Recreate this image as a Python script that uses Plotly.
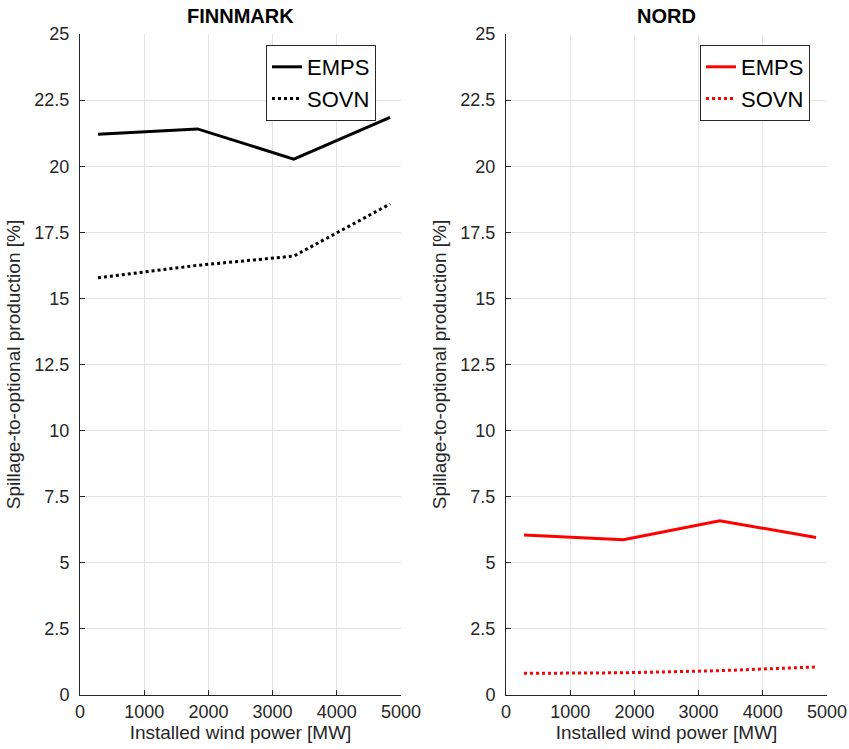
import plotly.graph_objects as go

# Installed wind power scenarios [MW]
wind_mw = [280, 1830, 3330, 4830]

# Spillage-to-optional production [%]
finnmark_emps = [21.21, 21.41, 20.27, 21.85]
finnmark_sovn = [15.78, 16.25, 16.60, 18.57]
nord_emps = [6.05, 5.87, 6.59, 5.96]
nord_sovn = [0.82, 0.84, 0.92, 1.06]

panel_titles = ["FINNMARK", "NORD"]
y_ticks = [0, 2.5, 5, 7.5, 10, 12.5, 15, 17.5, 20, 22.5, 25]
x_ticks = [0, 1000, 2000, 3000, 4000, 5000]

FONT = "Liberation Sans, Arial, Helvetica, sans-serif"
AXIS_COLOR = "#262626"
GRID_COLOR = "#e3e3e3"

fig = go.Figure()

fig.add_trace(go.Scatter(x=wind_mw, y=finnmark_emps, name="EMPS", mode="lines",
                         line=dict(color="black", width=3), xaxis="x", yaxis="y",
                         legend="legend"))
fig.add_trace(go.Scatter(x=wind_mw, y=finnmark_sovn, name="SOVN", mode="lines",
                         line=dict(color="black", width=3, dash="dot"), xaxis="x", yaxis="y",
                         legend="legend"))
fig.add_trace(go.Scatter(x=wind_mw, y=nord_emps, name="EMPS", mode="lines",
                         line=dict(color="red", width=3), xaxis="x2", yaxis="y2",
                         legend="legend2"))
fig.add_trace(go.Scatter(x=wind_mw, y=nord_sovn, name="SOVN", mode="lines",
                         line=dict(color="red", width=3, dash="dot"), xaxis="x2", yaxis="y2",
                         legend="legend2"))

W, H = 849, 749
y_dom = [1 - 695 / H, 1 - 34 / H]
x_doms = [[80 / W, 401 / W], [506 / W, 827 / W]]

common_x = dict(range=[0, 5000], tickvals=x_ticks, ticks="inside", ticklen=5,
                tickcolor=AXIS_COLOR, showline=True, linecolor=AXIS_COLOR, linewidth=1,
                showgrid=True, gridcolor=GRID_COLOR, zeroline=False, mirror=False,
                automargin=False,
                tickfont=dict(family=FONT, size=18, color=AXIS_COLOR),
                title=dict(text="Installed wind power [MW]", standoff=2,
                           font=dict(family=FONT, size=19, color=AXIS_COLOR)))
common_y = dict(range=[0, 25], tickvals=y_ticks, ticks="inside", ticklen=5,
                tickcolor=AXIS_COLOR, showline=True, linecolor=AXIS_COLOR, linewidth=1,
                showgrid=True, gridcolor=GRID_COLOR, zeroline=False, mirror=False,
                automargin=False,
                tickfont=dict(family=FONT, size=18, color=AXIS_COLOR),
                ticklabelstandoff=6,
                title=dict(text="Spillage-to-optional production [%]", standoff=8,
                           font=dict(family=FONT, size=19, color=AXIS_COLOR)))

legend_common = dict(bgcolor="white", bordercolor=AXIS_COLOR, borderwidth=1,
                     font=dict(family=FONT, size=22, color="black"),
                     xanchor="right", yanchor="top", tracegroupgap=0,
                     itemwidth=30)

fig.update_layout(
    width=W, height=H,
    margin=dict(l=0, r=0, t=0, b=0, autoexpand=False),
    paper_bgcolor="white", plot_bgcolor="white",
    xaxis=dict(domain=x_doms[0], anchor="y", **common_x),
    yaxis=dict(domain=y_dom, anchor="x", **common_y),
    xaxis2=dict(domain=x_doms[1], anchor="y2", **common_x),
    yaxis2=dict(domain=y_dom, anchor="x2", **common_y),
    legend=dict(x=376 / W, y=1 - 45 / H, **legend_common),
    legend2=dict(x=810 / W, y=1 - 45 / H, **legend_common),
    annotations=[
        dict(text="<b>%s</b>" % panel_titles[i], x=sum(x_doms[i]) / 2, y=1 - 16 / H,
             xref="paper", yref="paper", xanchor="center", yanchor="middle",
             showarrow=False, font=dict(family=FONT, size=20, color="black"))
        for i in range(2)
    ],
)

fig.write_html("out.html")
